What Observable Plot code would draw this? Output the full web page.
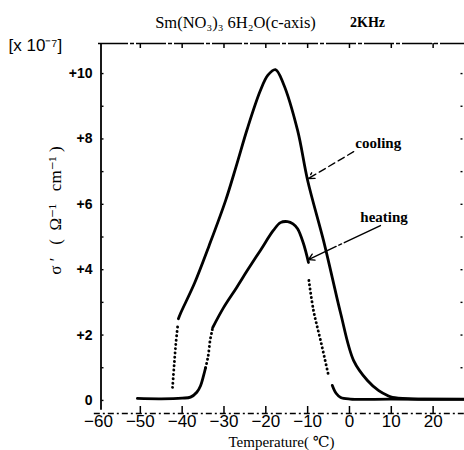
<!DOCTYPE html>
<html>
<head>
<meta charset="utf-8">
<script src="https://cdn.jsdelivr.net/npm/d3@7"></script>
<script src="https://cdn.jsdelivr.net/npm/@observablehq/plot@0.6"></script>
<style>
  html, body { margin: 0; padding: 0; background: #fff; }
  #chart svg { display: block; }
</style>
</head>
<body>
<div id="chart"></div>
<script>
// ---- data ----
const titleText = "Sm(NO\u2083)\u2083 6H\u2082O(c-axis)";
const freqText = "2KHz";
const unitText = "[x 10\u207B\u2077]";
const yLabelText = "\u03C3 \u2032   (  \u03A9\u207B\u00B9   cm\u207B\u00B9 )";
const xLabelText = "Temperature( \u2103)";

const xTicks = [-60, -50, -40, -30, -20, -10, 0, 10, 20];
const topTicks = [-50, -40, -30, -20, -10, 0, 10, 20];
const yTicks = [0, 2, 4, 6, 8, 10];
const yMinor = [1, 2, 3, 4, 5, 6, 7, 8, 9, 10];
const xDomain = [-60, 27.5];
const yDomain = [-0.4, 10.92];

// cooling curve
const coolDotT = [-42.3, -41.9, -41.5, -41.0];
const coolDotS = [0.40, 1.10, 1.75, 2.35];
const coolT = [-40.9, -40.4, -37.0, -33.6, -29.6, -27.0, -24.4, -21.3, -19.5, -17.7, -15.8, -12.4, -10.0, -6.2, -4.1, -2.1, 1.0, 4.3, 7.0, 9.1, 10.3, 15.0, 27.5];
const coolS = [2.50, 2.66, 3.60, 4.72, 6.12, 7.20, 8.32, 9.48, 9.95, 10.12, 9.69, 8.26, 6.73, 4.89, 3.75, 2.66, 1.22, 0.61, 0.30, 0.15, 0.09, 0.05, 0.04];

// heating curve
const heatBaseT = [-50.7, -45.0, -40.0, -38.0, -36.5, -35.6, -34.9, -34.4];
const heatBaseS = [0.06, 0.05, 0.07, 0.10, 0.25, 0.45, 0.75, 1.00];
const heatDot1T = [-34.4, -33.8, -33.3, -32.9, -32.7];
const heatDot1S = [1.00, 1.35, 1.85, 2.10, 2.23];
const heatT = [-32.7, -30.1, -27.0, -24.4, -21.3, -18.2, -16.5, -14.8, -13.5, -12.4, -11.0, -9.8];
const heatS = [2.23, 2.84, 3.45, 3.98, 4.59, 5.20, 5.44, 5.47, 5.40, 5.25, 4.80, 4.22];
const heatDot2T = [-9.7, -8.6, -6.9, -5.0];
const heatDot2S = [3.67, 2.75, 1.83, 0.76];
const heatTailT = [-4.1, -3.2, -2.1, 0.2, 10.0, 27.5];
const heatTailS = [0.46, 0.22, 0.09, 0.04, 0.04, 0.03];

// annotations
const annotLabels = ["cooling", "heating"];
const annotX = [1.4, 2.6];
const annotY = [7.86, 5.6];
const arrowX1 = [1.0, 7.4];
const arrowY1 = [7.61, 5.35];
const arrowX2 = [-9.8, -9.8];
const arrowY2 = [6.79, 4.31];

// ---- build tables ----
const zip = (T, S) => T.map((t, i) => ({t, s: S[i]}));
const coolDot = zip(coolDotT, coolDotS);
const cool = zip(coolT, coolS);
const heatBase = zip(heatBaseT, heatBaseS);
const heatDot1 = zip(heatDot1T, heatDot1S);
const heat = zip(heatT, heatS);
const heatDot2 = zip(heatDot2T, heatDot2S);
const heatTail = zip(heatTailT, heatTailS);
const annots = annotLabels.map((l, i) => ({l, x: annotX[i], y: annotY[i], x1: arrowX1[i], y1: arrowY1[i], x2: arrowX2[i], y2: arrowY2[i]}));

const sans = "'Liberation Sans', Arial, sans-serif";
const narrow = "'Liberation Sans Narrow', 'Liberation Sans', Arial, sans-serif";
const serif = "'Liberation Serif', 'DejaVu Serif', serif";

const solid = {x: "t", y: "s", stroke: "black", strokeWidth: 2.8, curve: "catmull-rom", strokeLinecap: "round"};
const dotted = {...solid, strokeWidth: 2.9, strokeDasharray: "0.1,4.2"};

const yPxPerUnit = (413 - 43) / (yDomain[1] - yDomain[0]);
const xPxPerUnit = (464 - 98) / (xDomain[1] - xDomain[0]);

const chart = Plot.plot({
  width: 464,
  height: 450,
  marginLeft: 98,
  marginRight: 0,
  marginTop: 43,
  marginBottom: 37,
  x: {domain: xDomain, axis: null},
  y: {domain: yDomain, axis: null},
  style: {background: "white", color: "black", fontFamily: sans},
  marks: [
    // frame
    Plot.ruleX([xDomain[0]], {y1: yDomain[0] + 0.1, y2: yDomain[1], stroke: "black", strokeWidth: 1.8, dx: 2.5}),
    Plot.ruleY([yDomain[1]], {stroke: "black", strokeWidth: 1.4, strokeDasharray: "30,2,4,2"}),
    Plot.ruleY([yDomain[0]], {x1: xDomain[0] - 1, x2: xDomain[1], stroke: "black", strokeWidth: 1.4, strokeDasharray: "6,3,2,3"}),
    // bottom ticks (inward)
    Plot.ruleX(xTicks.slice(1), {y1: yDomain[0], y2: yDomain[0] + 7 / yPxPerUnit, stroke: "black", strokeWidth: 1.5}),
    // top ticks (inward)
    Plot.ruleX(topTicks, {y1: yDomain[1], y2: yDomain[1] - 5 / yPxPerUnit, stroke: "black", strokeWidth: 1.5}),
    // left minor ticks
    Plot.ruleY(yMinor.concat([0]), {x1: xDomain[0] + 3.5 / xPxPerUnit, x2: xDomain[0] + 5.5 / xPxPerUnit, stroke: "black", strokeWidth: 1.4}),
    // right side ticks
    Plot.ruleY(yMinor, {x1: xDomain[1] - 3.5 / xPxPerUnit, x2: xDomain[1] - 1.5 / xPxPerUnit, stroke: "black", strokeWidth: 1.4}),

    // tick labels
    Plot.text(xTicks, {x: d => d, frameAnchor: "bottom", lineAnchor: "top", dy: 1, text: d => String(d).replace("-", "\u2212"), fontFamily: narrow, fontSize: 17, fill: "black"}),
    Plot.text(yTicks, {y: d => d, frameAnchor: "left", textAnchor: "end", dx: -6, text: d => d === 0 ? "0" : "+" + d, fontFamily: sans, fontWeight: "bold", fontSize: 14, fill: "black"}),

    // curves
    Plot.line(coolDot, dotted),
    Plot.line(cool, solid),
    Plot.line(heatBase, solid),
    Plot.line(heatDot1, dotted),
    Plot.line(heat, solid),
    Plot.line(heatDot2, dotted),
    Plot.line(heatTail, solid),

    // annotations
    Plot.arrow(annots.slice(0, 1), {x1: "x1", y1: "y1", x2: "x2", y2: "y2", stroke: "black", strokeWidth: 1.4, headLength: 7, strokeDasharray: "7,4"}),
    Plot.arrow(annots.slice(1), {x1: "x1", y1: "y1", x2: "x2", y2: "y2", stroke: "black", strokeWidth: 1.4, headLength: 7, strokeDasharray: "40,3,3,3"}),
    Plot.text(annots, {x: "x", y: "y", text: "l", textAnchor: "start", fontFamily: serif, fontWeight: "bold", fontSize: 15, fill: "black"}),

    // titles and axis labels
    Plot.text([titleText], {frameAnchor: "top-left", dx: 137, dy: -21, textAnchor: "middle", lineAnchor: "middle", fontFamily: serif, fontSize: 16.5, fill: "black"}),
    Plot.text([freqText], {frameAnchor: "top-left", dx: 269, dy: -21, textAnchor: "middle", lineAnchor: "middle", fontFamily: serif, fontWeight: "bold", fontSize: 14, fill: "black"}),
    Plot.text([unitText], {frameAnchor: "top-left", dx: -90, dy: 2, textAnchor: "start", lineAnchor: "middle", fontFamily: sans, fontSize: 17, fill: "black"}),
    Plot.text([yLabelText], {frameAnchor: "left", dx: -43, dy: -18, rotate: -90, textAnchor: "middle", lineAnchor: "middle", fontFamily: serif, fontSize: 17, fill: "black"}),
    Plot.text([xLabelText], {frameAnchor: "bottom", dx: 0, dy: 29, textAnchor: "middle", lineAnchor: "middle", fontFamily: serif, fontSize: 15, fill: "black"})
  ]
});
document.getElementById("chart").appendChild(chart);
</script>
</body>
</html>
